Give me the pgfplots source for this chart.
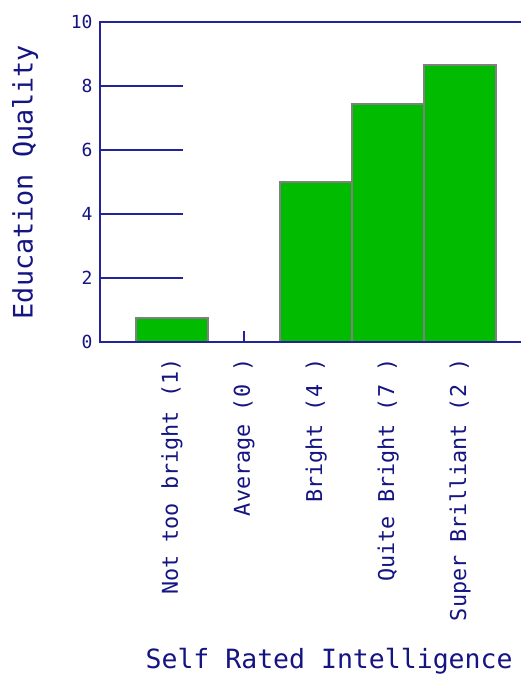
\documentclass[border=0pt]{standalone}
\usepackage{fontspec}
\setmainfont{DejaVu Sans Mono}
\usepackage{pgfplots}
\pgfplotsset{compat=1.18}
\definecolor{navyline}{RGB}{36,36,150}
\definecolor{navytext}{RGB}{20,20,130}
\definecolor{bargreen}{RGB}{0,187,0}
\definecolor{baredge}{RGB}{128,128,128}

\begin{document}
\begin{tikzpicture}
\begin{axis}[
  scale only axis,
  width=425pt, height=320pt,
  xmin=-1, xmax=4.9,
  ymin=0, ymax=10,
  ytick={0,2,...,10},
  xtick={0,1,2,3,4},
  xticklabels={Not too bright (1),Average (0 ),Bright (4 ),Quite Bright (7 ),Super Brilliant (2 )},
  xtick pos=bottom, ytick pos=left,
  tick align=inside,
  major tick length=11pt,
  every tick/.style={navyline, line width=2.2pt},
  axis line style={navyline, line width=2.2pt},
  yticklabel style={font=\fontsize{18}{18}\selectfont, text=navytext, xshift=-4pt},
  xticklabel style={font=\fontsize{21.8}{21.8}\selectfont, text=navytext, rotate=90, anchor=east, xshift=-13pt},
  /pgf/number format/assume math mode=true,
  xlabel={Self Rated Intelligence},
  ylabel={Education Quality},
  xlabel style={font=\fontsize{26.5}{26.5}\selectfont, text=navytext, at={(axis description cs:0.539,-0.997)}, anchor=center},
  ylabel style={font=\fontsize{26.8}{26.8}\selectfont, text=navytext, at={(axis description cs:-0.176,0.5)}, anchor=center, rotate=0},
]
\addplot[ybar, bar width=1, fill=bargreen, draw=baredge, line width=2pt] coordinates {
  (0,0.75) (1,0) (2,5.0) (3,7.44) (4,8.67)
};
\draw[navyline, line width=2.2pt] (axis cs:-1,0) -- (axis cs:4.9,0);
% inward y ticks on the left spine
\draw[navyline, line width=2.2pt] (axis cs:-1,2) -- ++(11pt,0);
\draw[navyline, line width=2.2pt] (axis cs:-1,4) -- ++(11pt,0);
\draw[navyline, line width=2.2pt] (axis cs:-1,6) -- ++(11pt,0);
\draw[navyline, line width=2.2pt] (axis cs:-1,8) -- ++(11pt,0);
\end{axis}
\pgfresetboundingbox
\path[use as bounding box] (-100pt,-332pt) rectangle (421pt,342pt);
\end{tikzpicture}
\end{document}
